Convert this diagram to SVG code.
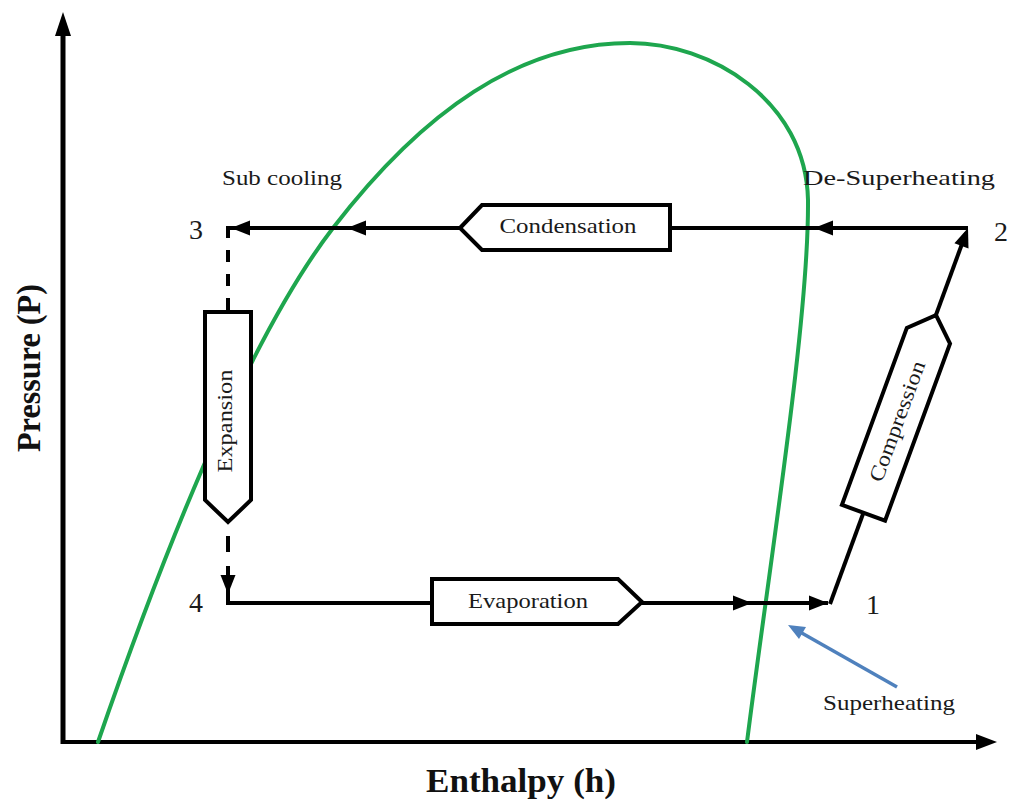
<svg xmlns="http://www.w3.org/2000/svg" width="1013" height="802" viewBox="0 0 1013 802">
  <style>
    .lbl { font-family: "Liberation Serif", "Times New Roman", serif; fill: #1a1a1a; }
    .axis-title { font-family: "Liberation Serif", "Times New Roman", serif; font-weight: bold; fill: #111; }
    .flow { stroke: #000; stroke-width: 4; fill: none; }
    .box { fill: #fff; stroke: #000; stroke-width: 4; stroke-linejoin: miter; }
    .sat { fill: none; stroke: #1ea64e; stroke-width: 4; stroke-linecap: round; }
  </style>
  <defs>
    <path id="ah" d="M0,0 L-19,-7.5 L-19,7.5 Z" fill="#000"/>
  </defs>

  <rect width="1013" height="802" fill="#fff"/>

  <!-- axes -->
  <g id="axes">
    <line x1="63" y1="744" x2="63" y2="30" stroke="#000" stroke-width="5"/>
    <path d="M63,12 L55,36 L71,36 Z" fill="#000"/>
    <line x1="61" y1="742" x2="978" y2="742" stroke="#000" stroke-width="4"/>
    <path d="M997,742 L976,734 L976,750 Z" fill="#000"/>
    <text class="axis-title" font-size="34" x="521" y="792" text-anchor="middle" textLength="190" lengthAdjust="spacingAndGlyphs">Enthalpy (h)</text>
    <text class="axis-title" font-size="34" transform="translate(40,368) rotate(-90)" text-anchor="middle" textLength="168" lengthAdjust="spacingAndGlyphs">Pressure (P)</text>
  </g>

  <!-- saturation dome -->
  <path id="dome" class="sat" d="M98,742 C138,626 233,358 333,228 C423,111 520,43 630,43 C710,43 806,100 808,200 C809,320 770,560 747,742"/>

  <!-- cycle connectors -->
  <g id="connectors">
    <!-- 2 -> 3 condensation line -->
    <line class="flow" x1="968" y1="228" x2="228" y2="228"/>
    <use href="#ah" transform="translate(231,228) rotate(180)"/>
    <use href="#ah" transform="translate(347,228) rotate(180)"/>
    <use href="#ah" transform="translate(814,228) rotate(180)"/>
    <!-- 3 -> 4 expansion (dashed) -->
    <line class="flow" x1="228" y1="226" x2="228" y2="312" stroke-dasharray="12 12"/>
    <line class="flow" x1="228" y1="536" x2="228" y2="552"/>
    <line class="flow" x1="228" y1="566" x2="228" y2="605"/>
    <use href="#ah" transform="translate(228,594) rotate(90)"/>
    <!-- 4 -> 1 evaporation line -->
    <line class="flow" x1="226" y1="603" x2="828" y2="603"/>
    <use href="#ah" transform="translate(752,603)"/>
    <use href="#ah" transform="translate(828,603)"/>
    <!-- 1 -> 2 compression line -->
    <line class="flow" x1="830" y1="604" x2="966" y2="233"/>
    <use href="#ah" transform="translate(968,228) rotate(-69.85)"/>
    <!-- superheating pointer -->
    <line x1="897" y1="687" x2="800" y2="632" stroke="#4f81bd" stroke-width="3.5"/>
    <path d="M788,625 L806,627 L799,639 Z" fill="#4f81bd"/>
  </g>

  <!-- process nodes -->
  <g id="condensation">
    <path class="box" d="M460,228 L482,205 L670,205 L670,250 L482,250 Z"/>
    <text class="lbl" font-size="21" x="568" y="233" text-anchor="middle" textLength="137" lengthAdjust="spacingAndGlyphs">Condensation</text>
  </g>
  <g id="expansion">
    <path class="box" d="M205,312 L251,312 L251,500 L228,522 L205,500 Z"/>
    <text class="lbl" font-size="21" transform="translate(232,421) rotate(-90)" text-anchor="middle" textLength="103" lengthAdjust="spacingAndGlyphs">Expansion</text>
  </g>
  <g id="evaporation">
    <path class="box" d="M432,579 L618,579 L642,602 L618,624 L432,624 Z"/>
    <text class="lbl" font-size="21" x="528" y="608" text-anchor="middle" textLength="120" lengthAdjust="spacingAndGlyphs">Evaporation</text>
  </g>
  <g id="compression" transform="translate(895.7,425) rotate(-69.85)">
    <path class="box" d="M-93.5,-23 L95,-23 L117,0 L95,23 L-93.5,23 Z"/>
    <text class="lbl" font-size="21" x="4" y="7" text-anchor="middle" textLength="127" lengthAdjust="spacingAndGlyphs">Compression</text>
  </g>

  <!-- state points and region labels -->
  <g id="labels">
    <text class="lbl" font-size="28" x="203" y="239" text-anchor="end">3</text>
    <text class="lbl" font-size="28" x="994" y="241">2</text>
    <text class="lbl" font-size="28" x="866" y="614">1</text>
    <text class="lbl" font-size="28" x="203" y="612" text-anchor="end">4</text>
    <text class="lbl" font-size="21" x="222" y="185" textLength="120" lengthAdjust="spacingAndGlyphs">Sub cooling</text>
    <text class="lbl" font-size="21" x="803" y="185" textLength="192" lengthAdjust="spacingAndGlyphs">De-Superheating</text>
    <text class="lbl" font-size="21" x="823" y="710" textLength="132" lengthAdjust="spacingAndGlyphs">Superheating</text>
  </g>
</svg>
